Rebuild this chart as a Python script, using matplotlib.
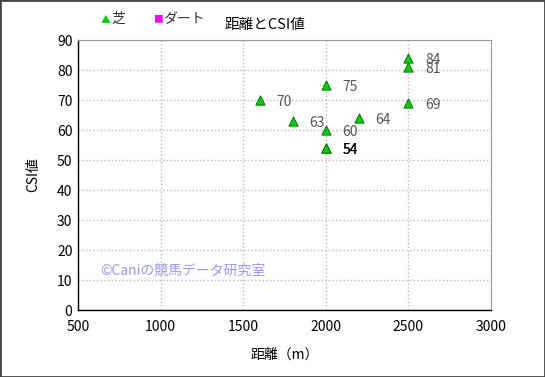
import matplotlib
matplotlib.use('Agg')
import matplotlib.pyplot as plt
from matplotlib.patches import Rectangle

plt.rcParams['font.family'] = ['Noto Sans CJK JP', 'DejaVu Sans']

# data
turf_dist = [1600, 1800, 2000, 2000, 2000, 2000, 2200, 2500, 2500, 2500]
turf_csi = [70, 63, 75, 60, 54, 54, 64, 84, 81, 69]
dirt_dist = []
dirt_csi = []

fig = plt.figure(figsize=(5.45, 3.77), dpi=100)
ax = fig.add_axes([78/545, 1 - 310/377, (491 - 78)/545, (310 - 40)/377])

ax.scatter(turf_dist, turf_csi, marker='^', s=45, color='#00cc00',
           edgecolors='#006600', linewidths=0.6, zorder=3)
ax.scatter(dirt_dist, dirt_csi, marker='s', s=30, color='#ff00ff', zorder=3)

for d, c in zip(turf_dist, turf_csi):
    col = 'black' if c == 54 else '#555555'
    ax.annotate(str(c), (d, c), xytext=(12, -1.5), textcoords='offset points',
                fontsize=10, color=col, va='center')

ax.set_xlim(500, 3000)
ax.set_ylim(0, 90)
ax.set_xticks(range(500, 3001, 500))
ax.set_yticks(range(0, 91, 10))
ax.tick_params(length=0, labelsize=10, pad=4)
ax.tick_params(axis='x', pad=7)
ax.grid(color='#bbbbbb', linestyle=':', linewidth=1)
ax.set_axisbelow(True)
for s in ['top', 'right']:
    ax.spines[s].set_color('#999999')
ax.spines['left'].set_linewidth(1)
ax.spines['bottom'].set_linewidth(1)

ax.set_xlabel('距離（m）', fontsize=10, labelpad=10)
ax.set_ylabel('CSI値', fontsize=10, labelpad=12)

fig.text(265/545, 1 - 25/377, '距離とCSI値', fontsize=10.5, ha='center', va='center')
fig.text(106/545, 1 - 19/377, '▲', color='#00cc00', fontsize=7, ha='center', va='center')
fig.text(111/545, 1 - 19/377, '芝', color='#333333', fontsize=10, va='center')
fig.text(158/545, 1 - 19/377, '■', color='#ff00ff', fontsize=7, ha='center', va='center')
fig.text(163/545, 1 - 19/377, 'ダート', color='#333333', fontsize=10, va='center')
fig.text(100/545, 1 - 271/377, '©Caniの競馬データ研究室', color='#9999ee', fontsize=10,
         va='center')

fig.patches.append(Rectangle((0, 0), 1, 1, transform=fig.transFigure, fill=False,
                             edgecolor='#444444', linewidth=2))

fig.savefig('out.png', dpi=100)
